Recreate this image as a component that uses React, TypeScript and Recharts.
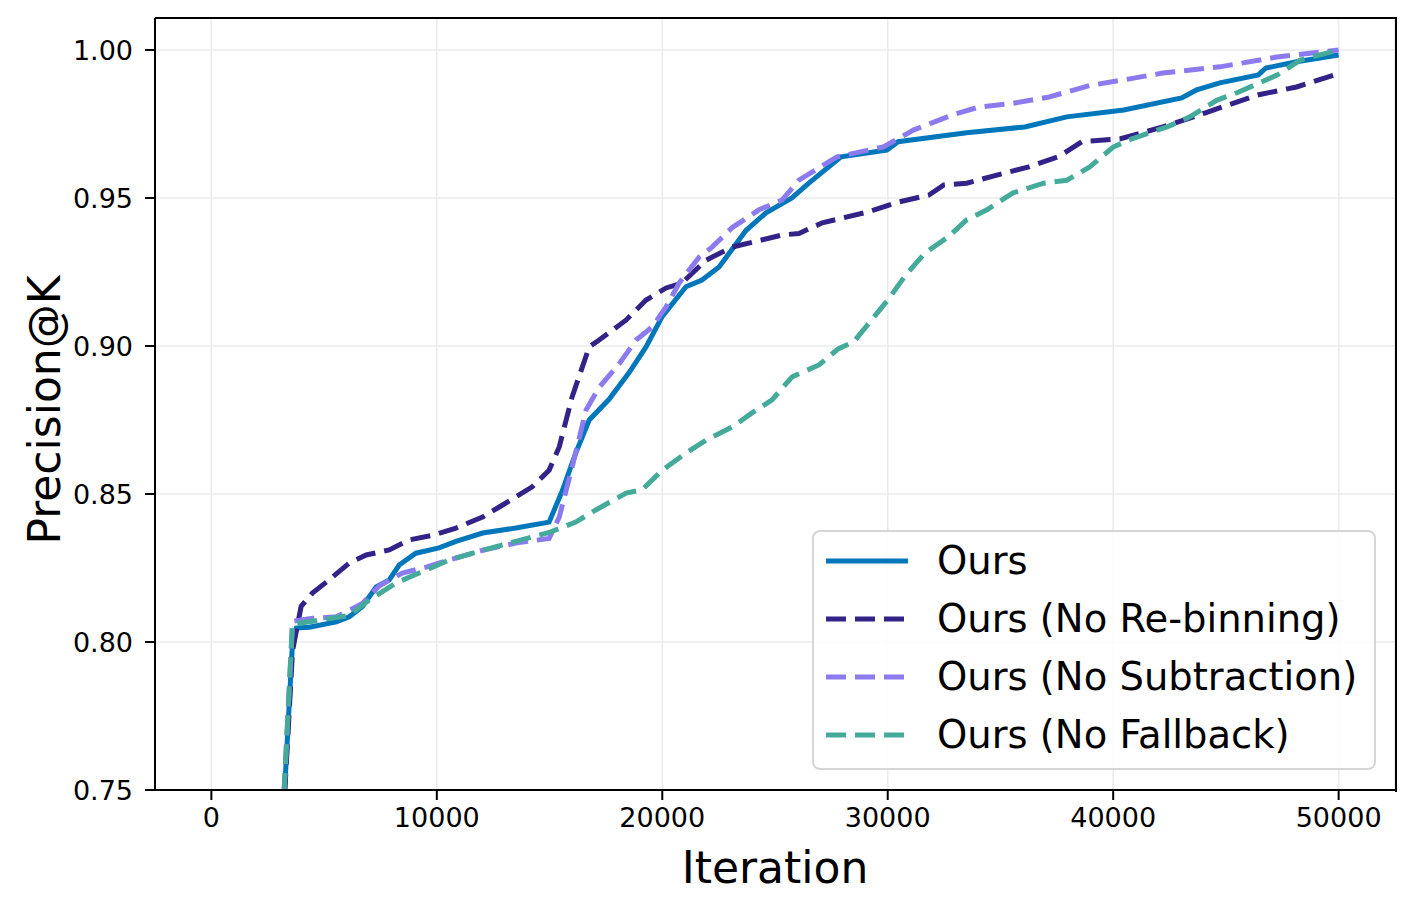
import React from 'react';
import {
  LineChart,
  Line,
  XAxis,
  YAxis,
  CartesianGrid,
  Legend,
  Label,
} from 'recharts';

// values
const OURS_ITER = [2900, 3600, 3770, 4340, 5540, 6120, 6700, 7310, 7890, 8330, 9070, 10100, 10850, 12030, 13500, 14980, 15560, 16170, 16760, 17640, 18530, 19280, 20000, 21050, 21760, 22520, 23710, 24600, 25750, 26500, 27930, 29960, 30460, 33500, 36080, 37940, 40470, 43040, 43700, 44730, 46440, 46770, 48130, 50000];
const OURS_PREC = [0.7, 0.8, 0.8047, 0.805, 0.8068, 0.8085, 0.812, 0.8186, 0.821, 0.826, 0.83, 0.8318, 0.834, 0.8368, 0.8385, 0.8405, 0.851, 0.864, 0.875, 0.882, 0.891, 0.8997, 0.91, 0.92, 0.9223, 0.9267, 0.939, 0.945, 0.95, 0.955, 0.9639, 0.9662, 0.969, 0.972, 0.974, 0.9774, 0.9797, 0.9838, 0.9865, 0.9889, 0.9916, 0.9939, 0.996, 0.9983];

const NOREBIN_ITER = [2900, 3600, 3980, 4480, 5230, 6120, 6870, 7890, 8780, 9800, 10850, 12030, 12770, 14230, 14980, 15430, 16000, 16760, 17200, 18400, 19280, 20170, 20880, 21940, 23100, 23980, 25310, 26060, 27100, 29120, 30460, 31830, 32490, 33500, 34880, 36260, 37590, 38610, 40330, 42200, 44060, 46410, 48130, 50000];
const NOREBIN_PREC = [0.7, 0.797, 0.812, 0.8165, 0.821, 0.8267, 0.8294, 0.8311, 0.8345, 0.836, 0.8385, 0.8422, 0.8456, 0.8524, 0.858, 0.8659, 0.8828, 0.8997, 0.902, 0.9088, 0.9155, 0.9196, 0.9213, 0.929, 0.9334, 0.935, 0.9375, 0.938, 0.9416, 0.9453, 0.9486, 0.951, 0.9544, 0.955, 0.9578, 0.9605, 0.964, 0.969, 0.97, 0.974, 0.9787, 0.9848, 0.9875, 0.992];

const NOSUB_ITER = [2900, 3600, 4500, 5540, 6700, 7450, 8470, 9530, 10550, 12030, 13500, 14980, 15430, 16000, 16620, 17200, 18090, 18840, 19550, 20170, 20750, 21630, 22210, 23100, 24290, 25310, 26060, 27750, 29790, 31160, 32850, 34040, 35550, 37100, 38960, 40470, 42200, 44730, 47250, 50000];
const NOSUB_PREC = [0.7, 0.807, 0.808, 0.8085, 0.813, 0.819, 0.8233, 0.8253, 0.8277, 0.831, 0.8334, 0.835, 0.8422, 0.859, 0.8784, 0.886, 0.894, 0.902, 0.9064, 0.9132, 0.9213, 0.93, 0.9334, 0.94, 0.946, 0.9493, 0.956, 0.9639, 0.9672, 0.973, 0.978, 0.9807, 0.982, 0.984, 0.988, 0.9899, 0.9922, 0.9943, 0.9976, 1.0];

const NOFALL_ITER = [2900, 3600, 4500, 6120, 7000, 8200, 9530, 10550, 12030, 13500, 14980, 16160, 17050, 18400, 19100, 20000, 21050, 21940, 23100, 23980, 24870, 25750, 26950, 27800, 28500, 29200, 30050, 30800, 31650, 32670, 33500, 34400, 35550, 36920, 37940, 38960, 40000, 40830, 42390, 43400, 44590, 45570, 47290, 48300, 50000];
const NOFALL_PREC = [0.7, 0.806, 0.807, 0.809, 0.8142, 0.82, 0.8243, 0.8277, 0.831, 0.834, 0.837, 0.8405, 0.8446, 0.8503, 0.8514, 0.858, 0.8638, 0.8682, 0.8726, 0.8774, 0.8818, 0.8895, 0.8936, 0.899, 0.9015, 0.908, 0.916, 0.924, 0.9314, 0.9368, 0.9426, 0.946, 0.9517, 0.955, 0.956, 0.9605, 0.9672, 0.97, 0.974, 0.9774, 0.983, 0.9858, 0.9916, 0.9966, 1.0];

const X_TICKS = [0, 10000, 20000, 30000, 40000, 50000];
const Y_TICKS = [0.75, 0.8, 0.85, 0.9, 0.95, 1.0];

const zip = (xs: number[], ys: number[]) => xs.map((iter, i) => ({ iter, prec: ys[i] }));

const SERIES = [
  { name: 'Ours', color: '#0077BB', dash: undefined, data: zip(OURS_ITER, OURS_PREC) },
  { name: 'Ours (No Re-binning)', color: '#332288', dash: '20 9', data: zip(NOREBIN_ITER, NOREBIN_PREC) },
  { name: 'Ours (No Subtraction)', color: '#8B7BEF', dash: '20 9', data: zip(NOSUB_ITER, NOSUB_PREC) },
  { name: 'Ours (No Fallback)', color: '#44AA99', dash: '20 9', data: zip(NOFALL_ITER, NOFALL_PREC) },
];

const FONT = '"DejaVu Sans", sans-serif';

function LegendBox() {
  return (
    <div
      style={{
        boxSizing: 'border-box',
        width: 564,
        height: 240,
        border: '2px solid #d6d6d6',
        borderRadius: 8,
        background: 'rgba(255,255,255,0.85)',
        fontFamily: FONT,
      }}
    >
      {SERIES.map((s) => (
        <div key={s.name} style={{ display: 'flex', alignItems: 'center', height: 58 }}>
          <svg width={82} height={10} style={{ marginLeft: 12, marginRight: 29 }}>
            <line x1={0} y1={5} x2={82} y2={5} stroke={s.color} strokeWidth={5} strokeDasharray={s.dash} />
          </svg>
          <span style={{ fontSize: 38.5, color: '#000', whiteSpace: 'nowrap', lineHeight: 1 }}>{s.name}</span>
        </div>
      ))}
    </div>
  );
}

export default function App() {
  return (
    <div style={{ position: 'absolute', left: 0, top: 0, width: 1415, height: 911, background: '#fff', fontFamily: FONT }}>
      <LineChart width={1415} height={911} margin={{ top: 18, right: 20, bottom: 0, left: 0 }}>
        <CartesianGrid stroke="#ebebeb" strokeWidth={1.6} />
        <XAxis
          dataKey="iter"
          type="number"
          domain={[-2500, 52500]}
          allowDataOverflow
          ticks={X_TICKS}
          height={121}
          tick={{ fill: '#000', fontSize: 27, fontFamily: FONT }}
          tickSize={10}
          tickMargin={8}
          tickLine={{ stroke: '#000', strokeWidth: 2 }}
          axisLine={{ stroke: '#000', strokeWidth: 2 }}
          label={{ value: 'Iteration', position: 'insideBottom', offset: 28, fontSize: 44, fill: '#000', fontFamily: FONT }}
        />
        <YAxis
          type="number"
          domain={[0.75, 1.0108]}
          allowDataOverflow
          ticks={Y_TICKS}
          width={155}
          tickFormatter={(v: number) => v.toFixed(2)}
          tick={{ fill: '#000', fontSize: 27, fontFamily: FONT }}
          tickSize={10}
          tickMargin={12}
          tickLine={{ stroke: '#000', strokeWidth: 2 }}
          axisLine={{ stroke: '#000', strokeWidth: 2 }}
        >
          <Label
            content={() => (
              <text
                x={60}
                y={410}
                transform="rotate(-90 60 410)"
                textAnchor="middle"
                fontSize={44}
                fill="#000"
                fontFamily={FONT}
              >
                Precision@K
              </text>
            )}
          />
        </YAxis>
        {SERIES.map((s) => (
          <Line
            key={s.name}
            data={s.data}
            dataKey="prec"
            name={s.name}
            type="linear"
            stroke={s.color}
            strokeWidth={5}
            strokeDasharray={s.dash}
            dot={false}
            activeDot={false}
            isAnimationActive={false}
          />
        ))}
        <Legend
          layout="vertical"
          align="center"
          verticalAlign="middle"
          content={() => <LegendBox />}
          wrapperStyle={{ left: 812, top: 530, width: 564, height: 240 }}
        />
      </LineChart>
      {/* top and right spines */}
      <div
        style={{
          position: 'absolute',
          left: 155,
          top: 17,
          width: 1240,
          height: 773,
          borderTop: '2px solid #000',
          borderRight: '2px solid #000',
          pointerEvents: 'none',
        }}
      />
    </div>
  );
}
